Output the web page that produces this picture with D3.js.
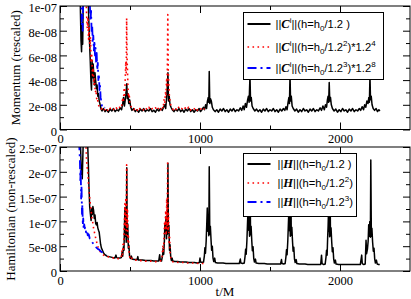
<!DOCTYPE html>
<html>
<head>
<meta charset="utf-8">
<script src="https://cdn.jsdelivr.net/npm/d3@7"></script>
<style>
  body { margin: 0; background: #fff; }
  svg { display: block; }
</style>
</head>
<body>
<svg id="chart" width="411" height="299"></svg>
<script>
// axis ticks
const xTicks = [0, 1000, 2000];
const xMinor = [500, 1500];
const momTicks = [0, 2, 4, 6, 8, 10];
const momMinor = [1, 3, 5, 7, 9];
const momTickLabels = ['0', '2e-08', '4e-08', '6e-08', '8e-08', '1e-07'];
const hamTicks = [0, 5, 10, 15, 20, 25];
const hamMinor = [2.5, 7.5, 12.5, 17.5, 22.5];
const hamTickLabels = ['0', '5e-08', '1e-07', '1.5e-07', '2e-07', '2.5e-07'];

// [t/M, value in units of 1e-8]
const momBlack = [[140,14],[146,9.5],[150,7.2],[154,6.3],[158,8.6],[162,6.9],[166,10.5],[172,14],[185,16],[198,13],[204,9.5],[210,7.4],[216,5.6],[221,3.9],[225,3.2],[229,5.6],[233,4.2],[237,5.3],[241,4.4],[246,3.6],[250,4.6],[255,3.9],[260,3.3],[265,3.6],[270,2.7],[275,2.9],[280,2.3],[285,2.1],[290,1.8],[295,1.6],[300,1.5],
  [310,1.7],[322,1.45],[334,1.6],[346,1.4],[358,1.65],[370,1.5],[382,1.7],[394,1.45],[406,1.6],[418,1.5],[430,1.75],[440,1.6],[448,2.1],[454,2.6],[460,1.9],[466,2.4],[472,3.0],[477,3.7],[481,2.5],[486,2.9],[491,2.1],[498,2.4],[505,1.8],[514,1.55],[526,1.7],[538,1.45],[550,1.6],[562,1.4],[574,1.65],[586,1.5],[598,1.7],[610,1.45],[622,1.6],[634,1.5],[646,1.7],[658,1.45],[670,1.55],[682,1.4],[694,1.65],[706,1.5],[718,1.7],[730,1.55],[740,1.8],[748,2.0],[755,1.7],[761,2.5],[766,3.3],[771,4.6],[775,2.3],[780,2.7],[786,2.0],[793,1.8],[802,1.6],[814,1.45],[826,1.65],[838,1.5],[850,1.7],[862,1.45],[874,1.6],[886,1.4],[898,1.65],[910,1.5],[922,1.7],[934,1.45],[946,1.6],[958,1.4],[970,1.6],[982,1.5],[994,1.7],[1004,1.45],[1014,1.6],[1024,1.8],[1032,1.6],[1040,2.0],[1047,1.7],[1053,2.3],[1059,2.6],[1063,2.2],[1066,4.7],[1070,2.1],[1075,2.5],[1081,2.3],[1088,1.8],[1096,1.6],
  [1108,1.45],[1120,1.6],[1132,1.4],[1144,1.65],[1156,1.5],[1168,1.7],[1180,1.45],[1192,1.6],[1204,1.4],[1216,1.65],[1228,1.5],[1240,1.7],[1252,1.45],[1264,1.6],[1276,1.5],[1288,1.75],[1298,1.55],[1308,1.9],[1316,1.6],[1324,2.1],[1332,1.8],[1340,2.4],[1346,2.7],[1351,2.2],[1357,4.4],[1361,2.3],[1366,2.6],[1372,1.9],[1380,1.7],[1392,1.5],[1404,1.65],[1416,1.45],[1428,1.6],[1440,1.4],[1452,1.65],[1464,1.5],[1476,1.7],[1488,1.45],[1500,1.6],[1512,1.5],[1524,1.7],[1536,1.45],[1548,1.6],[1560,1.4],[1572,1.65],[1584,1.5],[1596,1.7],[1606,1.55],[1614,1.85],[1622,1.6],[1629,2.2],[1635,2.6],[1639,2.1],[1643,4.5],[1647,2.3],[1652,2.7],[1658,1.9],[1666,1.7],[1678,1.5],[1690,1.65],[1702,1.4],[1714,1.6],[1726,1.45],[1738,1.7],[1750,1.5],[1762,1.6],[1774,1.4],[1786,1.65],[1798,1.5],[1810,1.7],[1822,1.45],[1834,1.6],[1846,1.5],[1858,1.75],[1868,1.55],[1878,1.9],[1888,1.6],[1896,2.0],[1904,1.8],[1910,2.4],[1915,2.7],[1919,2.2],[1923,3.8],[1927,2.3],[1932,2.6],[1938,2.0],[1946,1.7],[1958,1.5],[1970,1.65],[1982,1.4],[1994,1.6],[2006,1.45],[2018,1.7],[2030,1.5],[2042,1.6],[2054,1.4],[2066,1.65],[2078,1.5],[2090,1.7],[2102,1.45],[2114,1.6],[2126,1.5],[2138,1.7],[2148,1.55],[2158,1.85],[2168,1.6],[2176,2.0],[2184,1.8],[2192,2.3],[2200,2.1],[2206,2.6],[2210,2.2],[2214,4.4],[2218,2.4],[2223,2.7],[2229,2.0],[2237,1.7],[2247,1.55],[2258,1.7],[2268,1.45],[2278,1.6],[2285,1.5]];

const momRed = [[180,14],[186,11],[190,9.3],[195,8.2],[199,9.1],[204,7.3],[208,8.4],[213,6.6],[218,7.5],[222,5.4],[227,6.0],[232,4.4],[237,5.0],[242,3.6],[247,4.1],[252,3.0],[257,3.2],[262,2.5],[267,2.6],[272,2.1],[278,1.9],[285,1.75],[295,1.65],[305,1.8],[317,1.6],[329,1.75],[341,1.55],[353,1.8],[365,1.6],[377,1.7],[389,1.55],[401,1.75],[413,1.6],[425,1.8],[435,1.7],[442,2.0],[448,2.6],[453,2.2],[458,3.4],[462,2.8],[466,4.2],[470,5.5],[473,4.6],[476,9.0],[479,5.8],[482,4.8],[485,3.6],[489,2.6],[494,2.9],[499,2.1],[506,1.9],[515,1.7],[527,1.6],[539,1.75],[551,1.55],[563,1.8],[575,1.6],[587,1.7],[599,1.55],[611,1.75],[623,1.6],[635,1.8],[647,1.55],[659,1.7],[671,1.6],[683,1.75],[695,1.55],[707,1.8],[719,1.6],[729,1.9],[737,1.7],[743,2.4],[748,2.1],[753,3.0],[757,2.7],[761,4.0],[764,3.4],[767,5.0],[770,9.3],[773,4.8],[776,3.9],[780,2.9],[785,2.4],[791,2.0],[799,1.75],[810,1.6],[822,1.75],[834,1.55],[846,1.8],[858,1.6],[870,1.7],[882,1.55],[894,1.75],[906,1.6],[918,1.8],[930,1.55],[942,1.7],[954,1.6],[966,1.75],[978,1.55],[990,1.7],[1002,1.6],[1014,1.75],[1026,1.6],[1032,1.7]];

const momBlue = [[146,14],[150,11.5],[153,9.6],[156,8.4],[159,9.3],[162,8.0],[165,9.8],[168,12],[172,15],[200,15],[208,12],[213,10.2],[218,8.8],[222,9.6],[226,7.8],[230,8.4],[234,7.0],[238,7.6],[242,6.4],[246,7.2],[250,6.0],[254,6.6],[258,5.4],[262,6.2],[266,4.8],[270,5.4],[274,4.0],[278,4.5],[282,3.2],[286,3.6],[290,2.6],[295,2.3],[300,1.9],[306,1.75],[312,1.7],[320,1.8]];

const hamBlack = [[140,30],[146,26],[150,22],[153,19.5],[156,21],[159,18.6],[163,23],[168,28],[185,30],[196,27],[202,22],[207,17],[212,13],[217,11.5],[222,10.2],[227,12.6],[231,11.4],[235,13],[240,12.2],[245,10.6],[250,11.3],[255,9.6],[260,9.3],[265,9.8],[270,8.7],[275,8.2],[280,7.8],[285,6.6],[290,5.4],[296,4.6],[303,4.2],[310,3.7],[320,3.3],[335,3.0],[350,2.9],[365,2.8],[380,2.7],[392,2.6],[400,3.2],[404,2.7],[415,2.6],[428,2.6],[438,2.7],[444,3.8],[448,3.0],[453,4.9],[457,4.2],[461,9.8],[464,12.8],[467,7.0],[470,11],[473,5.8],[477,20.8],[480,6.8],[484,9.5],[488,4.6],[492,5.2],[497,3.0],[503,2.5],[510,3.0],[515,2.4],[530,2.3],[550,2.3],[556,2.9],[560,2.2],[570,2.2],[590,2.2],[610,2.1],[630,2.1],[650,2.1],[670,2.0],[690,2.0],[705,2.0],[712,3.3],[716,2.2],[725,2.0],[733,3.2],[737,4.6],[741,3.4],[746,6.3],[749,9.6],[753,8.0],[757,11],[761,6.5],[764,10.3],[767,7.4],[771,21.7],[774,7.6],[778,9.2],[782,4.2],[786,5.3],[791,2.8],[796,2.1],[801,2.6],[806,2.0],[820,1.9],[840,1.9],[860,1.8],[880,1.8],[900,1.8],[920,1.7],[940,1.7],[960,1.7],[980,1.6],[995,1.7],[1000,2.6],[1004,1.8],[1015,1.7],[1025,1.8],[1031,3.0],[1035,4.7],[1039,3.6],[1044,6.0],[1048,9.2],[1052,12.7],[1056,8.0],[1060,10.4],[1063,7.1],[1066,21.0],[1070,7.4],[1074,9.0],[1079,6.2],[1083,4.2],[1088,5.0],[1093,2.6],[1098,1.9],[1105,2.6],[1110,1.7],[1125,1.6],[1145,1.6],[1165,1.6],[1185,1.5],[1205,1.5],[1225,1.5],[1245,1.5],[1265,1.5],[1280,1.5],[1288,2.4],[1292,1.6],[1305,1.5],[1316,1.6],[1322,3.0],[1326,4.4],[1330,3.4],[1335,6.1],[1339,9.3],[1343,12.5],[1347,8.2],[1351,10.6],[1354,7.0],[1357,21.5],[1361,7.3],[1365,9.0],[1370,6.0],[1374,4.1],[1379,4.9],[1384,2.5],[1389,1.8],[1396,2.4],[1401,1.6],[1420,1.5],[1440,1.5],[1460,1.5],[1480,1.4],[1500,1.4],[1520,1.4],[1540,1.4],[1560,1.4],[1575,1.4],[1582,2.3],[1586,1.5],[1598,1.4],[1608,1.5],[1614,2.9],[1618,4.3],[1622,3.3],[1627,6.0],[1631,9.2],[1635,12.4],[1639,8.1],[1642,10.5],[1645,7.0],[1648,21.6],[1652,7.2],[1656,8.8],[1661,5.9],[1665,4.0],[1670,4.8],[1675,2.4],[1680,1.7],[1687,2.3],[1692,1.5],[1710,1.4],[1730,1.4],[1750,1.4],[1770,1.3],[1790,1.3],[1810,1.3],[1830,1.3],[1850,1.3],[1862,1.3],[1868,3.2],[1872,1.5],[1884,1.3],[1894,1.4],[1900,2.8],[1904,4.2],[1908,3.2],[1912,6.9],[1915,9.0],[1918,12.2],[1921,8.0],[1923,10.3],[1926,6.9],[1928,21.4],[1932,7.1],[1936,8.7],[1941,5.8],[1945,3.9],[1950,4.7],[1955,2.4],[1960,1.6],[1967,2.2],[1972,1.4],[1990,1.3],[2010,1.3],[2030,1.3],[2050,1.3],[2070,1.3],[2090,1.3],[2110,1.3],[2130,1.3],[2145,1.3],[2155,3.2],[2159,1.5],[2170,1.3],[2180,1.4],[2186,6.2],[2190,3.5],[2196,4.4],[2201,6.0],[2205,9.3],[2209,7.0],[2213,10],[2217,6.8],[2220,22.4],[2224,7.0],[2228,8.6],[2233,5.8],[2238,4.0],[2243,4.6],[2248,2.4],[2253,1.6],[2260,2.2],[2266,1.4],[2275,1.3],[2284,1.3]];

const hamRed = [[180,30],[186,25],[190,22.2],[195,20.5],[199,19.6],[204,17.2],[209,15.6],[214,14.2],[219,12.9],[224,11.8],[229,10.6],[234,9.8],[240,8.6],[246,7.8],[252,7.0],[258,6.2],[265,5.5],[272,4.8],[280,4.2],[290,3.8],[300,3.5],[312,3.2],[325,3.0],[340,2.9],[355,2.8],[370,2.7],[385,2.6],[400,2.6],[415,2.5],[428,2.5],[438,2.7],[442,4.0],[446,3.2],[450,5.4],[454,4.4],[458,8.0],[461,10.5],[464,13.6],[467,9.0],[470,14.8],[473,7.2],[476,21.4],[479,8.6],[482,12.5],[485,6.0],[488,7.4],[492,4.2],[496,3.1],[502,2.5],[510,2.8],[516,2.3],[530,2.2],[550,2.2],[570,2.1],[590,2.1],[610,2.0],[630,2.0],[650,2.0],[670,1.9],[690,1.9],[705,1.9],[715,2.0],[727,2.2],[731,3.6],[735,5.0],[739,3.8],[743,6.5],[747,10.0],[751,8.6],[755,12.2],[759,7.2],[762,14.6],[765,8.4],[769,22.2],[772,8.0],[775,11.6],[779,5.8],[783,6.8],[787,3.6],[792,2.6],[798,2.0],[810,1.8],[830,1.8],[850,1.7],[870,1.7],[890,1.7],[910,1.6],[930,1.6],[950,1.6],[970,1.6],[990,1.5],[1010,1.5],[1030,1.5]];

const hamBlue = [[132,30],[138,25],[142,22.5],[145,18.3],[148,20.5],[151,14.6],[154,17.2],[157,11.5],[160,13.4],[163,9.2],[166,10.6],[169,8.3],[173,9.4],[177,8.6],[181,8.9],[186,7.8],[192,8.2],[198,7.2],[205,7.4],[212,6.6],[219,6.4],[226,6.0],[233,5.7],[240,5.4],[248,5.0],[256,4.8],[264,4.6],[272,4.4],[280,4.3],[290,4.0],[300,3.8],[310,3.6],[320,3.4],[330,3.3]];

const SERIF = 'Liberation Serif, Times New Roman, serif';
const SANS = 'Liberation Sans, Arial, sans-serif';
const STYLES = {
  black: { stroke: '#000', width: 1.5, dash: null },
  red: { stroke: '#ff0000', width: 1.6, dash: '1.6,3.4' },
  blue: { stroke: '#0000ff', width: 1.8, dash: '9,4,2,4' }
};

const svg = d3.select('#chart');
const X0 = 60, X1 = 410;
const x = d3.scaleLinear().domain([0, 2500]).range([X0, X1]);

// legend label pieces
function cLabel(pow, mult) {
  const p = [{ t: '||' }, { t: 'C', math: true }, { t: 'i', sup: true }, { t: '||(h=h' }, { t: '0', sub: true }, { t: '/1.2' }];
  if (pow) p.push({ t: pow, sup: true }, { t: ')*1.2' }, { t: mult, sup: true });
  else p.push({ t: ' )' });
  return p;
}
function hLabel(pow) {
  const p = [{ t: '||' }, { t: 'H', math: true }, { t: '||(h=h' }, { t: '0', sub: true }, { t: '/1.2' }];
  if (pow) p.push({ t: pow, sup: true }, { t: ')' });
  else p.push({ t: ' )' });
  return p;
}

function richText(sel, parts) {
  let shift = 0;
  parts.forEach(p => {
    const want = p.sup ? -5 : p.sub ? 3 : 0;
    const ts = sel.append('tspan').attr('dy', want - shift).text(p.t);
    shift = want;
    if (p.sup || p.sub) ts.attr('font-size', 8);
    if (p.math) {
      ts.attr('font-family', SERIF).attr('font-weight', 'bold').attr('font-style', 'italic').attr('font-size', 12.5);
    }
  });
}

function panel(cfg) {
  const y = d3.scaleLinear().domain([0, cfg.yMax]).range([cfg.bottom, cfg.top]);
  const g = svg.append('g');
  const clipId = 'clip-' + cfg.id;

  g.append('clipPath').attr('id', clipId)
    .append('rect')
    .attr('x', X0).attr('y', cfg.top)
    .attr('width', X1 - X0).attr('height', cfg.bottom - cfg.top);

  const line = d3.line()
    .x(d => x(d[0]))
    .y(d => y(d[1]));

  const lines = g.append('g').attr('clip-path', 'url(#' + clipId + ')');
  cfg.series.forEach(s => {
    const st = STYLES[s.style];
    lines.append('path')
      .datum(s.data)
      .attr('fill', 'none')
      .attr('stroke', st.stroke)
      .attr('stroke-width', st.width)
      .attr('stroke-dasharray', st.dash)
      .attr('stroke-linejoin', 'round')
      .attr('d', line);
  });

  // axes, ticks pointing in on all four sides
  const addAxis = (axis, tx, ty, labels) => {
    const a = g.append('g')
      .attr('transform', 'translate(' + tx + ',' + ty + ')')
      .call(axis)
      .attr('font-family', SERIF)
      .attr('font-size', 12.5);
    a.select('.domain').remove();
    a.selectAll('line').attr('stroke', '#000');
    a.selectAll('text').attr('fill', '#000');
    if (!labels) a.selectAll('text').remove();
    return a;
  };
  const fmtY = d => cfg.labels[cfg.ticks.indexOf(d)];

  addAxis(d3.axisBottom(x).tickValues(xTicks).tickSizeInner(-7).tickSizeOuter(0).tickPadding(5).tickFormat(d3.format('d')), 0, cfg.bottom, true);
  addAxis(d3.axisBottom(x).tickValues(xMinor).tickSizeInner(-4).tickSizeOuter(0), 0, cfg.bottom, false);
  addAxis(d3.axisTop(x).tickValues(xTicks).tickSizeInner(-7).tickSizeOuter(0), 0, cfg.top, false);
  addAxis(d3.axisTop(x).tickValues(xMinor).tickSizeInner(-4).tickSizeOuter(0), 0, cfg.top, false);
  addAxis(d3.axisLeft(y).tickValues(cfg.ticks).tickSizeInner(-7).tickSizeOuter(0).tickPadding(3).tickFormat(fmtY), X0, 0, true)
    .selectAll('text').attr('dy', '0.45em');
  addAxis(d3.axisLeft(y).tickValues(cfg.minor).tickSizeInner(-4).tickSizeOuter(0), X0, 0, false);
  addAxis(d3.axisRight(y).tickValues(cfg.ticks).tickSizeInner(-7).tickSizeOuter(0), X1, 0, false);
  addAxis(d3.axisRight(y).tickValues(cfg.minor).tickSizeInner(-4).tickSizeOuter(0), X1, 0, false);

  g.append('rect')
    .attr('x', X0).attr('y', cfg.top)
    .attr('width', X1 - X0).attr('height', cfg.bottom - cfg.top)
    .attr('fill', 'none').attr('stroke', '#000').attr('stroke-width', 1);

  g.append('text')
    .attr('transform', 'translate(' + cfg.titleX + ',' + (cfg.top + cfg.bottom) / 2 + ') rotate(-90)')
    .attr('text-anchor', 'middle')
    .attr('font-family', SERIF)
    .attr('font-size', 13)
    .text(cfg.title);

  // legend
  const lg = g.append('g');
  const L = cfg.legend;
  lg.append('rect')
    .attr('x', L.x).attr('y', L.y).attr('width', L.w).attr('height', L.h)
    .attr('fill', '#fff').attr('stroke', '#000').attr('stroke-width', 1);
  cfg.series.forEach((s, i) => {
    const st = STYLES[s.style];
    const ry = L.rows[i];
    lg.append('line')
      .attr('x1', L.x + 4).attr('x2', L.x + 27)
      .attr('y1', ry).attr('y2', ry)
      .attr('stroke', st.stroke)
      .attr('stroke-width', s.style === 'black' ? 2 : st.width)
      .attr('stroke-dasharray', st.dash);
    const t = lg.append('text')
      .attr('x', L.x + L.textDx).attr('y', ry + 4)
      .attr('font-family', SANS)
      .attr('font-weight', 'normal')
      .attr('font-size', 11.2);
    richText(t, s.label);
  });
}

panel({
  id: 'mom', top: 6, bottom: 129.5, yMax: 10,
  ticks: momTicks, minor: momMinor, labels: momTickLabels,
  title: 'Momentum (rescaled)', titleX: 20,
  series: [
    { data: momBlack, style: 'black', label: cLabel(null) },
    { data: momRed, style: 'red', label: cLabel('2', '4') },
    { data: momBlue, style: 'blue', label: cLabel('3', '8') }
  ],
  legend: { x: 243.5, y: 12.5, w: 140, h: 67, rows: [24, 47, 68], textDx: 32 }
});

panel({
  id: 'ham', top: 147, bottom: 271, yMax: 25,
  ticks: hamTicks, minor: hamMinor, labels: hamTickLabels,
  title: 'Hamiltonian (non-rescaled)', titleX: 15,
  series: [
    { data: hamBlack, style: 'black', label: hLabel(null) },
    { data: hamRed, style: 'red', label: hLabel('2') },
    { data: hamBlue, style: 'blue', label: hLabel('3') }
  ],
  legend: { x: 243.5, y: 153.5, w: 113, h: 63, rows: [164, 183, 202], textDx: 34 }
});

svg.append('text')
  .attr('x', 225).attr('y', 296)
  .attr('text-anchor', 'middle')
  .attr('font-family', SERIF)
  .attr('font-size', 13)
  .text('t/M');
</script>
</body>
</html>
